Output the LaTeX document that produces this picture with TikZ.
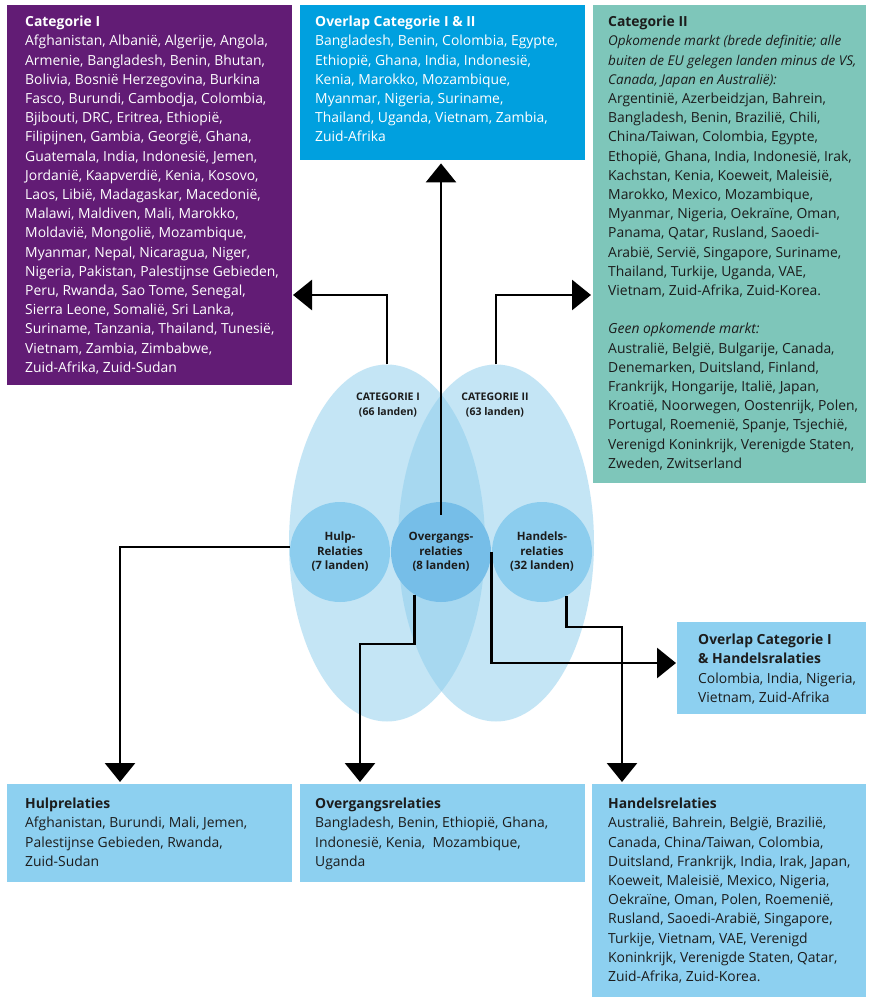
\documentclass[tikz,border=0pt]{standalone}
\usepackage{fontspec}
\setmainfont{Open Sans}
\usetikzlibrary{arrows.meta}
\usetikzlibrary{shapes.geometric}

\definecolor{catpurple}{RGB}{98,28,117}
\definecolor{ovlblue}{RGB}{0,160,223}
\definecolor{catteal}{RGB}{126,198,186}
\definecolor{lightblue}{RGB}{141,208,240}
\definecolor{ellblue}{RGB}{139,205,237}
\definecolor{circblue}{RGB}{140,205,238}
\definecolor{circdark}{RGB}{118,190,232}
\definecolor{ink}{RGB}{28,28,28}

\begin{document}
\begin{tikzpicture}[x=1pt,y=-1pt,
   box/.style={rectangle,inner sep=0,anchor=north west},
   txt/.style={inner sep=0,anchor=north west,align=left,text=ink,
     font=\fontsize{13.9}{19.2}\selectfont},
   ell/.style={ellipse,minimum width=196pt,minimum height=357pt,
     fill=ellblue,fill opacity=0.5,inner sep=0},
   circ/.style={circle,minimum size=100pt,inner sep=0,align=center,text=ink,
     font=\bfseries\fontsize{11.5}{14.5}\selectfont},
   lbl/.style={align=center,text=ink,inner sep=0,
     font=\bfseries\fontsize{10.5}{15}\selectfont},
   link/.style={line width=2.8pt,-{Triangle[length=19pt,width=30pt]}}]
\useasboundingbox (0,0) rectangle (869,998);
\fill[white] (0,0) rectangle (869,998);

% boxes
\node[box,fill=catpurple,minimum width=285pt,minimum height=380pt] (catIbox) at (7,5) {};
\node[box,fill=ovlblue,minimum width=285pt,minimum height=155pt] (ovlIbox) at (300,5) {};
\node[box,fill=catteal,minimum width=273pt,minimum height=478pt] (catIIbox) at (593,5) {};
\node[box,fill=lightblue,minimum width=189pt,minimum height=92pt] (ovlHbox) at (677,622) {};
\node[box,fill=lightblue,minimum width=285pt,minimum height=98pt] (hulpbox) at (7,784) {};
\node[box,fill=lightblue,minimum width=285pt,minimum height=98pt] (overgbox) at (300,784) {};
\node[box,fill=lightblue,minimum width=274pt,minimum height=213pt] (handelbox) at (592,784) {};

\node[txt,text=white] (catItxt) at (25,16) {\textbf{Categorie I}\\
Afghanistan, Albanië, Algerije, Angola,\\
Armenie, Bangladesh, Benin, Bhutan,\\
Bolivia, Bosnië Herzegovina, Burkina\\
Fasco, Burundi, Cambodja, Colombia,\\
Bjibouti, DRC, Eritrea, Ethiopië,\\
Filipijnen, Gambia, Georgië, Ghana,\\
Guatemala, India, Indonesië, Jemen,\\
Jordanië, Kaapverdië, Kenia, Kosovo,\\
Laos, Libië, Madagaskar, Macedonië,\\
Malawi, Maldiven, Mali, Marokko,\\
Moldavië, Mongolië, Mozambique,\\
Myanmar, Nepal, Nicaragua, Niger,\\
Nigeria, Pakistan, Palestijnse Gebieden,\\
Peru, Rwanda, Sao Tome, Senegal,\\
Sierra Leone, Somalië, Sri Lanka,\\
Suriname, Tanzania, Thailand, Tunesië,\\
Vietnam, Zambia, Zimbabwe,\\
Zuid-Afrika, Zuid-Sudan};

\node[txt,text=white] (ovlItxt) at (315,16) {\textbf{Overlap Categorie I \& II}\\
Bangladesh, Benin, Colombia, Egypte,\\
Ethiopië, Ghana, India, Indonesië,\\
Kenia, Marokko, Mozambique,\\
Myanmar, Nigeria, Suriname,\\
Thailand, Uganda, Vietnam, Zambia,\\
Zuid-Afrika};

\node[txt] (catIItxt) at (608,16) {\textbf{Categorie II}\\
{\fontsize{13.5}{19.2}\selectfont\itshape Opkomende markt (brede definitie; alle}\\
{\fontsize{13.5}{19.2}\selectfont\itshape buiten de EU gelegen landen minus de VS,}\\
{\fontsize{13.5}{19.2}\selectfont\itshape Canada, Japan en Australië):}\\
Argentinië, Azerbeidzjan, Bahrein,\\
Bangladesh, Benin, Brazilië, Chili,\\
China/Taiwan, Colombia, Egypte,\\
Ethopië, Ghana, India, Indonesië, Irak,\\
Kachstan, Kenia, Koeweit, Maleisië,\\
Marokko, Mexico, Mozambique,\\
Myanmar, Nigeria, Oekraïne, Oman,\\
Panama, Qatar, Rusland, Saoedi-\\
Arabië, Servië, Singapore, Suriname,\\
Thailand, Turkije, Uganda, VAE,\\
Vietnam, Zuid-Afrika, Zuid-Korea.\\[19.2pt]
\textit{Geen opkomende markt:}\\
Australië, België, Bulgarije, Canada,\\
Denemarken, Duitsland, Finland,\\
Frankrijk, Hongarije, Italië, Japan,\\
Kroatië, Noorwegen, Oostenrijk, Polen,\\
Portugal, Roemenië, Spanje, Tsjechië,\\
Verenigd Koninkrijk, Verenigde Staten,\\
Zweden, Zwitserland};

\node[txt] (ovlHtxt) at (698,634) {\textbf{Overlap Categorie I}\\
\textbf{\& Handelsralaties}\\
Colombia, India, Nigeria,\\
Vietnam, Zuid-Afrika};

\node[txt] (hulptxt) at (25,798) {\textbf{Hulprelaties}\\
Afghanistan, Burundi, Mali, Jemen,\\
Palestijnse Gebieden, Rwanda,\\
Zuid-Sudan};

\node[txt] (overgtxt) at (315,798) {\textbf{Overgangsrelaties}\\
Bangladesh, Benin, Ethiopië, Ghana,\\
Indonesië, Kenia,\ \ Mozambique,\\
Uganda};

\node[txt] (handeltxt) at (608,798) {\textbf{Handelsrelaties}\\
Australië, Bahrein, België, Brazilië,\\
Canada, China/Taiwan, Colombia,\\
Duitsland, Frankrijk, India, Irak, Japan,\\
Koeweit, Maleisië, Mexico, Nigeria,\\
Oekraïne, Oman, Polen, Roemenië,\\
Rusland, Saoedi-Arabië, Singapore,\\
Turkije, Vietnam, VAE, Verenigd\\
Koninkrijk, Verenigde Staten, Qatar,\\
Zuid-Afrika, Zuid-Korea.};

% ellipses and circles
\node[ell] (catIell) at (387,543) {};
\node[ell] (catIIell) at (496,543) {};
\node[lbl] (catIlbl) at (388,405) {CATEGORIE I\\(66 landen)};
\node[lbl] (catIIlbl) at (495,405) {CATEGORIE II\\(63 landen)};
\node[circ,fill=circblue] (hulp) at (340,552) {Hulp-\\Relaties\\(7 landen)};
\node[circ,fill=circdark] (overg) at (441,552) {Overgangs-\\relaties\\(8 landen)};
\node[circ,fill=circblue] (handel) at (542,552) {Handels-\\relaties\\(32 landen)};

% connectors
\coordinate (tipI) at (293,295);
\coordinate (tipII) at (591,295);
\coordinate (tipHulp) at (120,782);
\coordinate (kneeOverg) at (360,644);
\coordinate (tipOverg) at (360,782);
\coordinate (tipOvlH) at (676,663);
\coordinate (kneeHandel) at (622,627);
\coordinate (tipHandel) at (622,782);

\draw[link] (catIell.north) |- (tipI);
\draw[link] (catIIell.north) |- (tipII);
\draw[link] ([yshift=-13pt]overg.north) -- ([yshift=-3pt]overg.north |- ovlIbox.south);
\draw[link] ([yshift=5pt]hulp.west) -| (tipHulp);
\draw[link] (overg.238) |- (kneeOverg) -- (tipOverg);
\draw[link] (overg.east) |- (tipOvlH);
\draw[link] (handel.299) |- (kneeHandel) -- (tipHandel);
\end{tikzpicture}
\end{document}
